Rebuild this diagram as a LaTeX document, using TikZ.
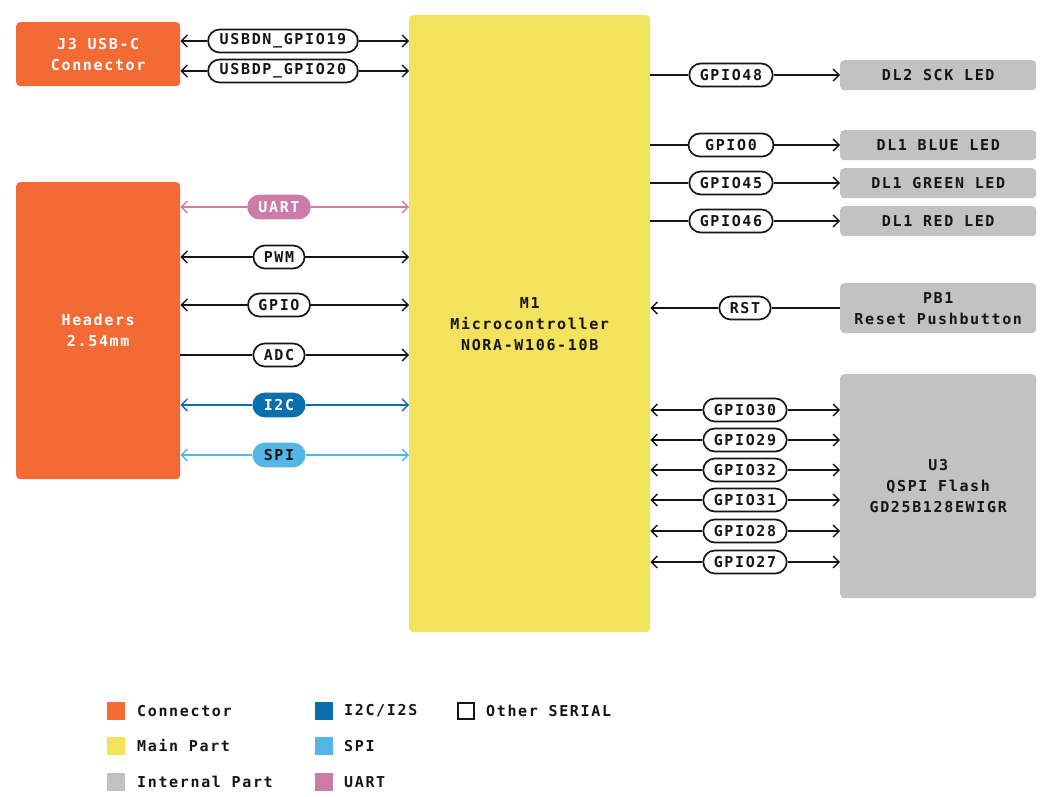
\documentclass[tikz,border=0pt]{standalone}
\usepackage{fontspec}
\setmonofont{DejaVu Sans Mono}[LetterSpace=11]
\usetikzlibrary{arrows.meta,shapes.misc}
\definecolor{conn}{HTML}{F46A35}
\definecolor{mainp}{HTML}{F2E25C}
\definecolor{intp}{HTML}{C2C2C2}
\definecolor{i2cc}{HTML}{0A70AD}
\definecolor{spic}{HTML}{55B6E6}
\definecolor{uartc}{HTML}{CF7BAA}
\definecolor{ink}{HTML}{151515}
\newcommand{\lblfont}{\fontsize{15}{21}\selectfont\ttfamily\bfseries}
\tikzset{
  blk/.style={rounded corners=4pt, inner sep=0pt, align=center, font=\lblfont, anchor=north west},
  pill/.style={rounded rectangle, draw=ink, line width=1.7pt, fill=white, minimum height=23pt, inner xsep=9pt, inner ysep=0pt, font=\lblfont, text=ink},
  wire/.style={line width=1.4pt, draw=ink},
  tip/.tip={Straight Barb[length=6pt,width=12pt,line width=1.4pt]},
  lgbox/.style={minimum size=18pt, inner sep=0pt},
  lgtxt/.style={anchor=west, font=\lblfont, text=ink, inner sep=0pt},
}
\begin{document}
\begin{tikzpicture}[x=1pt,y=-1pt]
\useasboundingbox (0,0) rectangle (1052,797);
% main blocks
\node[blk, fill=conn, text=white, minimum width=164pt, minimum height=64pt] (j3) at (16,22) {J3 USB-C\\Connector};
\node[blk, fill=conn, text=white, minimum width=164pt, minimum height=297pt] (hdr) at (16,182) {Headers\\2.54mm};
\node[blk, fill=mainp, text=ink, minimum width=241pt, minimum height=617pt] (m1) at (409,15) {M1\\Microcontroller\\NORA-W106-10B};
\node[blk, fill=intp, text=ink, minimum width=196pt, minimum height=30pt] (dl2) at (840,60) {DL2 SCK LED};
\node[blk, fill=intp, text=ink, minimum width=196pt, minimum height=30pt] (dlb) at (840,130) {DL1 BLUE LED};
\node[blk, fill=intp, text=ink, minimum width=196pt, minimum height=30pt] (dlg) at (840,168) {DL1 GREEN LED};
\node[blk, fill=intp, text=ink, minimum width=196pt, minimum height=30pt] (dlr) at (840,206) {DL1 RED LED};
\node[blk, fill=intp, text=ink, minimum width=196pt, minimum height=50pt] (pb1) at (840,283) {PB1\\Reset Pushbutton};
\node[blk, fill=intp, text=ink, minimum width=196pt, minimum height=224pt] (u3) at (840,374) {U3\\QSPI Flash\\GD25B128EWIGR};

% left pills
\node[pill] (usbdn) at (283,41) {USBDN\_GPIO19};
\node[pill] (usbdp) at (283,71) {USBDP\_GPIO20};
\node[pill, draw=uartc, fill=uartc, text=white] (uart) at (279,207) {UART};
\node[pill] (pwm) at (279,257) {PWM};
\node[pill] (gpio) at (279,305) {GPIO};
\node[pill] (adc) at (279,355) {ADC};
\node[pill, draw=i2cc, fill=i2cc, text=white] (i2c) at (279,405) {I2C};
\node[pill, draw=spic, fill=spic, text=ink] (spi) at (279,455) {SPI};

\foreach \p in {usbdn,usbdp}{
  \draw[wire, tip-] (j3.east |- \p) -- (\p.west);
  \draw[wire, -tip] (\p.east) -- (m1.west |- \p);
}
\foreach \p in {pwm,gpio}{
  \draw[wire, tip-] (hdr.east |- \p) -- (\p.west);
  \draw[wire, -tip] (\p.east) -- (m1.west |- \p);
}
\draw[wire] (hdr.east |- adc) -- (adc.west);
\draw[wire, -tip] (adc.east) -- (m1.west |- adc);
\foreach \p/\c in {uart/uartc,i2c/i2cc,spi/spic}{
  \draw[wire, draw=\c, tip-] (hdr.east |- \p) -- (\p.west);
  \draw[wire, draw=\c, -tip] (\p.east) -- (m1.west |- \p);
}

% right pills
\node[pill] (g48) at (731,75) {GPIO48};
\node[pill, text width=64pt, align=center] (g0) at (731,145) {GPIO0};
\node[pill] (g45) at (731,183) {GPIO45};
\node[pill] (g46) at (731,221) {GPIO46};
\foreach \p/\t in {g48/dl2,g0/dlb,g45/dlg,g46/dlr}{
  \draw[wire] (m1.east |- \p) -- (\p.west);
  \draw[wire, -tip] (\p.east) -- (\t.west |- \p);
}
\node[pill] (rst) at (745,308) {RST};
\draw[wire, tip-] (m1.east |- rst) -- (rst.west);
\draw[wire] (rst.east) -- (pb1.west |- rst);

\node[pill] (g30) at (745,410) {GPIO30};
\node[pill] (g29) at (745,440) {GPIO29};
\node[pill] (g32) at (745,470) {GPIO32};
\node[pill] (g31) at (745,500) {GPIO31};
\node[pill] (g28) at (745,531) {GPIO28};
\node[pill] (g27) at (745,562) {GPIO27};
\foreach \p in {g30,g29,g32,g31,g28,g27}{
  \draw[wire, tip-] (m1.east |- \p) -- (\p.west);
  \draw[wire, -tip] (\p.east) -- (u3.west |- \p);
}

% legend
\node[lgbox, fill=conn] (l1) at (116,711) {};
\node[lgtxt] (t1) at (137,711) {Connector};
\node[lgbox, fill=mainp] (l2) at (116,746) {};
\node[lgtxt] (t2) at (137,746) {Main Part};
\node[lgbox, fill=intp] (l3) at (116,782) {};
\node[lgtxt] (t3) at (137,782) {Internal Part};
\node[lgbox, fill=i2cc] (l4) at (324,711) {};
\node[lgtxt] (t4) at (344,711) {I2C/I2S};
\node[lgbox, fill=spic] (l5) at (324,746) {};
\node[lgtxt] (t5) at (344,746) {SPI};
\node[lgbox, fill=uartc] (l6) at (324,782) {};
\node[lgtxt] (t6) at (344,782) {UART};
\node[lgbox, draw=ink, line width=1.8pt, fill=white, minimum size=16pt] (l7) at (466,711) {};
\node[lgtxt] (t7) at (486,711) {Other SERIAL};
\end{tikzpicture}
\end{document}
